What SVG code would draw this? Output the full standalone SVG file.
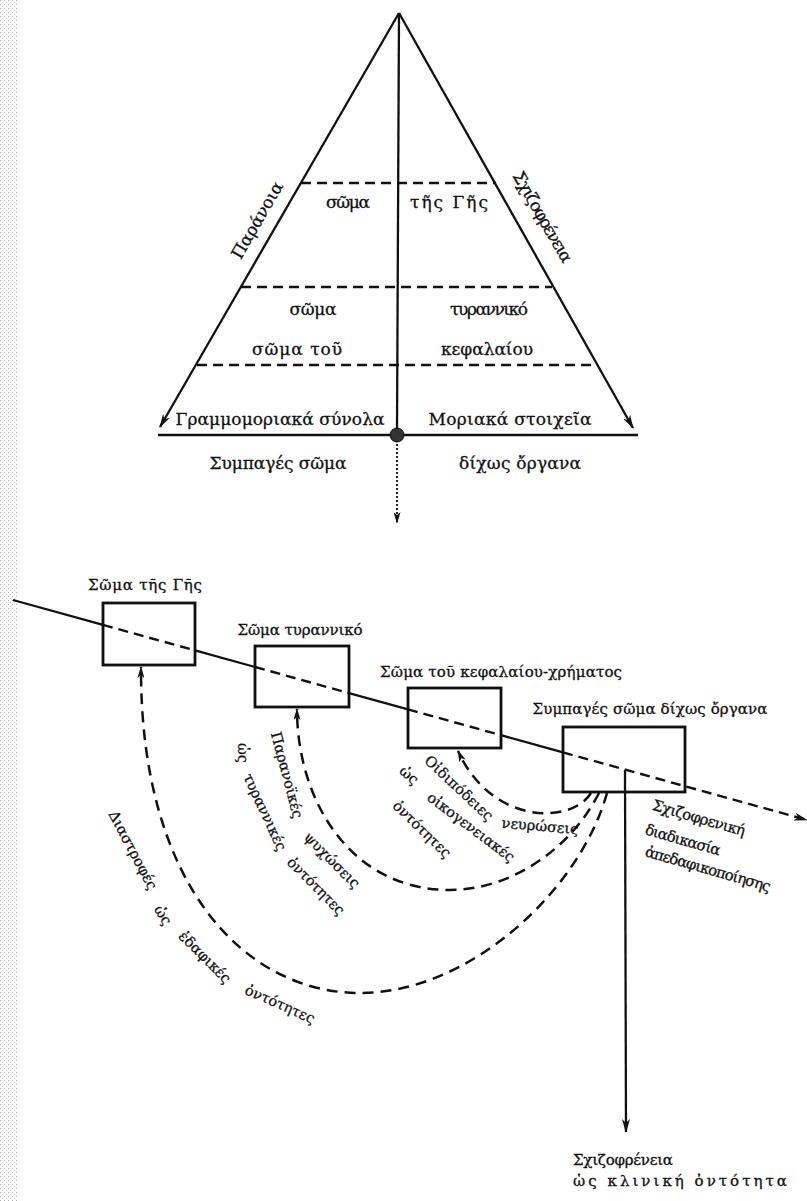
<svg xmlns="http://www.w3.org/2000/svg" width="807" height="1201" viewBox="0 0 807 1201">
<defs>
<style>
text{font-family:"DejaVu Serif","Liberation Serif",serif;fill:#111;stroke:#111;stroke-width:0.3px}
.t1{font-size:17px;text-anchor:middle}
.t2{font-size:15px;text-anchor:middle}
.lab{font-size:14.5px;text-anchor:middle}
.solid{stroke:#111;stroke-width:2.3;fill:none}
.dash{stroke:#111;stroke-width:2.4;fill:none;stroke-dasharray:10 6}
.curve{stroke:#111;stroke-width:2.5;fill:none;stroke-dasharray:11 7}
.box{stroke:#111;stroke-width:2.8;fill:none}
</style>
<marker id="ah" viewBox="0 0 14 8" refX="13" refY="4" markerWidth="14" markerHeight="8" markerUnits="userSpaceOnUse" orient="auto">
<path d="M0,0 L14,4 L0,8 L4,4 z" fill="#111"/>
</marker>
<marker id="ahs" viewBox="0 0 12 7" refX="11" refY="3.5" markerWidth="12" markerHeight="7" markerUnits="userSpaceOnUse" orient="auto">
<path d="M0,0 L12,3.5 L0,7 L3,3.5 z" fill="#111"/>
</marker>
<pattern id="grain" width="4" height="4" patternUnits="userSpaceOnUse">
<rect x="0" y="0" width="1" height="1" fill="#777"/>
<rect x="2" y="2" width="1" height="1" fill="#aaa"/>
</pattern>
</defs>
<rect width="807" height="1201" fill="#fff"/>
<rect x="0" y="0" width="18" height="1201" fill="url(#grain)" opacity="0.6"/>

<g id="connectors">
<line class="solid" x1="399" y1="13" x2="160" y2="427" marker-end="url(#ah)"/>
<line class="solid" x1="399" y1="13" x2="633" y2="428" marker-end="url(#ah)"/>
<line class="solid" x1="399" y1="13" x2="397" y2="432"/>
<line class="solid" x1="158" y1="435" x2="638" y2="435"/>
<line stroke="#111" stroke-width="1.8" stroke-dasharray="2 2" x1="397" y1="440" x2="397" y2="523" marker-end="url(#ahs)"/>
<line class="dash" x1="301" y1="183" x2="496" y2="183"/>
<line class="dash" x1="241" y1="287" x2="552" y2="287"/>
<line class="dash" x1="197" y1="365" x2="597" y2="365"/>
<line class="solid" x1="13" y1="600" x2="103" y2="624.9"/>
<line class="dash" x1="103" y1="624.9" x2="195" y2="650.4"/>
<line class="solid" x1="195" y1="650.4" x2="255" y2="667"/>
<line class="dash" x1="255" y1="667" x2="349" y2="693.1"/>
<line class="solid" x1="349" y1="693.1" x2="408" y2="709.4"/>
<line class="dash" x1="408" y1="709.4" x2="501" y2="735.2"/>
<line class="solid" x1="501" y1="735.2" x2="563" y2="752.4"/>
<line class="dash" x1="563" y1="752.4" x2="807" y2="820" marker-end="url(#ah)"/>
<line class="solid" x1="625" y1="770" x2="626" y2="1132" marker-end="url(#ah)"/>
<path class="curve" d="M591 793 C572 824, 492 826, 458 751" marker-end="url(#ahs)"/>
<path class="curve" d="M599 793 C570 850, 510 890, 450 890 C350 890, 297 800, 297 709" marker-end="url(#ahs)"/>
<path class="curve" d="M607 793 C580 890, 470 993, 360 993 C245 993, 140 885, 141 667" marker-end="url(#ahs)"/>
</g>

<g id="apex-ball">
<circle cx="397" cy="435" r="7" fill="#333" stroke="#111" stroke-width="1"/>
</g>

<g id="pyramid-labels">
<text class="t1" transform="translate(257,220) rotate(-60)" y="6" textLength="86" lengthAdjust="spacing">Παράνοια</text>
<text class="t1" transform="translate(543,217) rotate(60)" y="6" textLength="102" lengthAdjust="spacing">Σχιζοφρένεια</text>
<text class="t1" x="348" y="208" textLength="44" lengthAdjust="spacing">σῶμα</text>
<text class="t1" x="449" y="208" textLength="78" lengthAdjust="spacing">τῆς Γῆς</text>
<text class="t1" x="313" y="315" textLength="47" lengthAdjust="spacing">σῶμα</text>
<text class="t1" x="489" y="315" textLength="78" lengthAdjust="spacing">τυραννικό</text>
<text class="t1" x="297" y="355" textLength="90" lengthAdjust="spacing">σῶμα τοῦ</text>
<text class="t1" x="487" y="355" textLength="92" lengthAdjust="spacing">κεφαλαίου</text>
<text class="t1" x="280" y="425" textLength="209" lengthAdjust="spacing">Γραμμομοριακά σύνολα</text>
<text class="t1" x="510" y="425" textLength="163" lengthAdjust="spacing">Μοριακά στοιχεῖα</text>
<text class="t1" x="278" y="469" textLength="137" lengthAdjust="spacing">Συμπαγές σῶμα</text>
<text class="t1" x="520" y="469" textLength="122" lengthAdjust="spacing">δίχως ὄργανα</text>
</g>

<g id="node-earth">
<rect class="box" x="103" y="603" width="92" height="62"/>
<text class="t2" x="145" y="590" textLength="114" lengthAdjust="spacing">Σῶμα τῆς Γῆς</text>
</g>
<g id="node-despotic">
<rect class="box" x="255" y="646" width="94" height="61"/>
<text class="t2" x="300" y="635" textLength="125" lengthAdjust="spacing">Σῶμα τυραννικό</text>
</g>
<g id="node-capital">
<rect class="box" x="408" y="688" width="93" height="60"/>
<text class="t2" x="501" y="677" textLength="242" lengthAdjust="spacing">Σῶμα τοῦ κεφαλαίου-χρήματος</text>
</g>
<g id="node-bwo">
<rect class="box" x="563" y="727" width="122" height="65"/>
<text class="t2" x="650" y="714" textLength="235" lengthAdjust="spacing">Συμπαγές σῶμα δίχως ὄργανα</text>
</g>

<g id="process-label">
<text class="t2" transform="translate(699,818) rotate(16)" y="5" textLength="96" lengthAdjust="spacing">Σχιζοφρενική</text>
<text class="t2" transform="translate(683,840) rotate(16)" y="5" textLength="78" lengthAdjust="spacing">διαδικασία</text>
<text class="t2" transform="translate(708,869) rotate(16)" y="5" textLength="130" lengthAdjust="spacing">ἀπεδαφικοποίησης</text>
</g>

<g id="clinical-label">
<text class="t2" x="573" y="1165" style="text-anchor:start" textLength="100" lengthAdjust="spacing">Σχιζοφρένεια</text>
<text class="t2" x="573" y="1186" style="text-anchor:start" textLength="214" lengthAdjust="spacing">ὡς κλινική ὀντότητα</text>
</g>

<g id="curve-labels">
<text class="lab" transform="translate(459,788) rotate(43)" y="5">Οἰδιπόδειες</text>
<text class="lab" transform="translate(540,826) rotate(5)" y="5">νευρώσεις</text>
<text class="lab" transform="translate(409,775) rotate(40)" y="5">ὡς</text>
<text class="lab" transform="translate(471,827) rotate(37)" y="5">οἰκογενειακές</text>
<text class="lab" transform="translate(422,829) rotate(44)" y="5">ὀντότητες</text>

<text class="lab" transform="translate(287,775) rotate(75)" y="5">Παρανοϊκές</text>
<text class="lab" transform="translate(332,860) rotate(45)" y="5">ψυχώσεις</text>
<text class="lab" transform="translate(243,753) rotate(90)" y="5">ὡς</text>
<text class="lab" transform="translate(265,812) rotate(65)" y="5">τυραννικές</text>
<text class="lab" transform="translate(316,886) rotate(45)" y="5">ὀντότητες</text>

<text class="lab" transform="translate(133,850) rotate(62)" y="5">Διαστροφές</text>
<text class="lab" transform="translate(163,915) rotate(58)" y="5">ὡς</text>
<text class="lab" transform="translate(205,957) rotate(45)" y="5">ἐδαφικές</text>
<text class="lab" transform="translate(280,1004) rotate(24)" y="5">ὀντότητες</text>
</g>
</svg>
